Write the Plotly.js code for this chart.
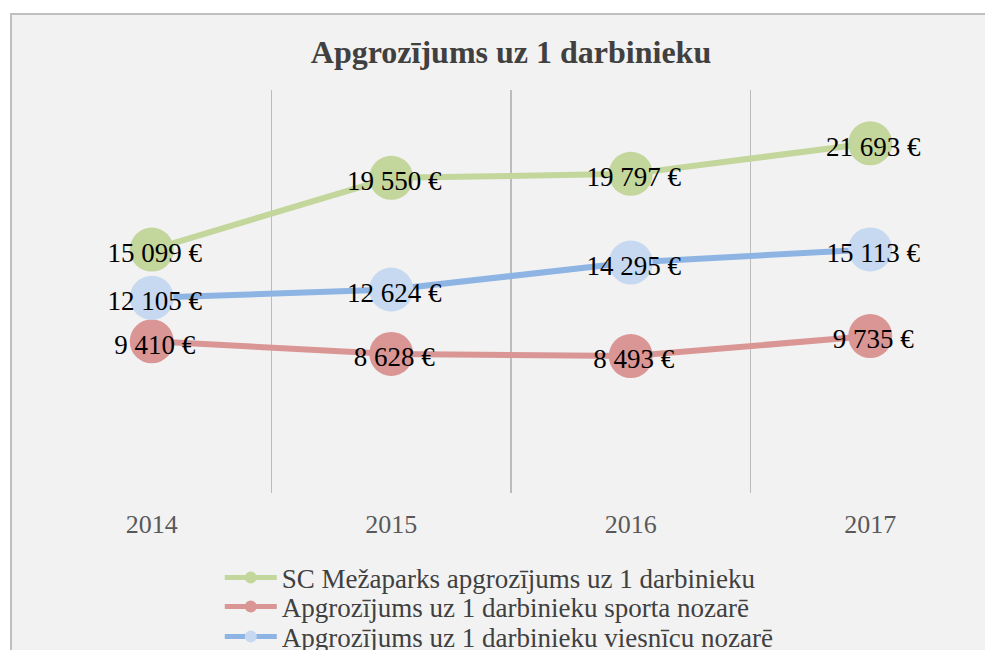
<!DOCTYPE html>
<html>
<head>
<meta charset="utf-8">
<script src="https://cdn.plot.ly/plotly-3.0.1.min.js"></script>
<style>
  html, body { margin:0; padding:0; background:#ffffff; overflow:hidden; width:985px; height:650px; }
  #chart { position:absolute; left:10px; top:13px; width:1000px; height:660px;
           border-left:2px solid #bfbfbf; border-top:2px solid #bfbfbf; background:#f2f2f2; }
</style>
</head>
<body>
<div id="chart"></div>
<script>
const years = ["2014", "2015", "2016", "2017"];
const seriesNames = [
  "SC Mežaparks apgrozījums uz 1 darbinieku",
  "Apgrozījums uz 1 darbinieku sporta nozarē",
  "Apgrozījums uz 1 darbinieku viesnīcu nozarē"
];
const mezaparks = [15099, 19550, 19797, 21693];
const sports = [9410, 8628, 8493, 9735];
const hotels = [12105, 12624, 14295, 15113];

const lineColors = ["#c3d69b", "#d99694", "#8eb4e3"];
const markerColors = ["#c3d69b", "#d99694", "#c6d9f1"];
const legendIds = ["legend", "legend2", "legend3"];

function fmt(v) {
  return String(v).replace(/\B(?=(\d{3})+(?!\d))/g, " ") + " €";
}

const xs = years.map((_, i) => i);
const serif = "Liberation Serif, Times New Roman, serif";
const allSeries = [mezaparks, sports, hotels];

// lines + markers
const data = allSeries.map((vals, k) => ({
  type: "scatter",
  mode: "lines+markers",
  name: seriesNames[k],
  legend: legendIds[k],
  x: xs,
  y: vals,
  line: { color: lineColors[k], width: 6 },
  marker: { color: markerColors[k], size: 44 },
  cliponaxis: false,
  hoverinfo: "skip"
}));

// data labels, on slightly offset overlay axes so the text sits centred like the reference
allSeries.forEach((vals) => {
  data.push({
    type: "scatter",
    mode: "text",
    x: xs,
    y: vals,
    xaxis: "x3",
    yaxis: "y2",
    text: vals.map(fmt),
    textposition: "middle center",
    textfont: { family: serif, size: 27, color: "#000000" },
    showlegend: false,
    cliponaxis: false,
    hoverinfo: "skip"
  });
});

// helper trace on overlaid axis to draw category-boundary gridlines
data.push({
  type: "scatter", mode: "none", x: [-0.5, 3.5], y: [0, 0],
  xaxis: "x2", yaxis: "y", showlegend: false, hoverinfo: "skip"
});

function legendAt(yv) {
  return {
    orientation: "v",
    x: 0.196, xanchor: "left", y: yv, yanchor: "middle",
    bgcolor: "rgba(0,0,0,0)",
    itemsizing: "constant",
    itemwidth: 52,
    font: { family: serif, size: 27, color: "#404040" }
  };
}

const yShift = 5.5 * 25000 / 403;
const xShift = 3 * 4 / 958;

const layout = {
  width: 1000, height: 660,
  paper_bgcolor: "#f2f2f2",
  plot_bgcolor: "rgba(0,0,0,0)",
  margin: { l: 20, r: 22, t: 75, b: 182 },
  title: {
    text: "<b>Apgrozījums uz 1 darbinieku</b>",
    font: { family: serif, size: 32, color: "#404040" },
    x: 0.5, xanchor: "center", y: 0.945, yanchor: "middle", xref: "paper"
  },
  xaxis: {
    range: [-0.5, 3.5],
    tickmode: "array", tickvals: xs, ticktext: years,
    showgrid: false, zeroline: false, showline: false, ticks: "",
    ticklabelstandoff: 13,
    tickfont: { family: serif, size: 26, color: "#595959" }
  },
  xaxis2: {
    overlaying: "x", range: [-0.5, 3.5],
    tickmode: "array", tickvals: [-0.5, 0.5, 1.5, 2.5, 3.5],
    showgrid: true, gridcolor: "#bcbcbc", gridwidth: 1.5,
    showticklabels: false, zeroline: false, showline: false, ticks: ""
  },
  xaxis3: {
    overlaying: "x", range: [-0.5 - xShift, 3.5 - xShift],
    showgrid: false, showticklabels: false, zeroline: false, showline: false, ticks: ""
  },
  yaxis: {
    range: [0, 25000], showgrid: false, zeroline: false,
    showticklabels: false, showline: false, ticks: ""
  },
  yaxis2: {
    overlaying: "y", range: [yShift, 25000 + yShift], showgrid: false, zeroline: false,
    showticklabels: false, showline: false, ticks: ""
  },
  showlegend: true,
  legend: legendAt(-0.211),
  legend2: legendAt(-0.283),
  legend3: legendAt(-0.357)
};

Plotly.newPlot("chart", data, layout, { displayModeBar: false, staticPlot: true });
</script>
</body>
</html>
